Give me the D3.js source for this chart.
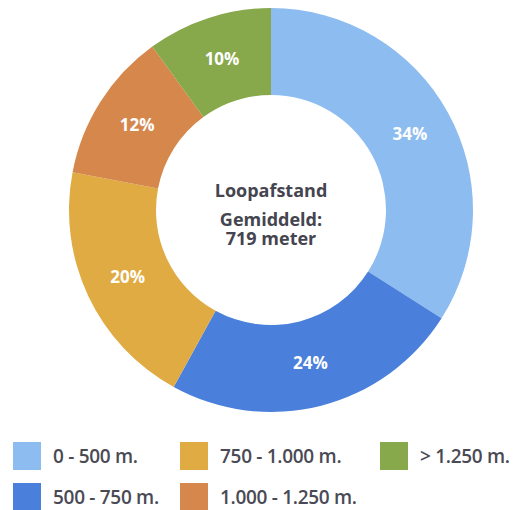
<!DOCTYPE html>
<html>
<head>
<meta charset="utf-8">
<script src="https://cdn.jsdelivr.net/npm/d3@7"></script>
<style>
  body { margin: 0; background: #fff; }
  svg { display: block; font-family: "Open Sans", sans-serif; }
</style>
</head>
<body>
<svg id="chart"></svg>
<script>
// data
const categories = ['0 - 500 m.', '500 - 750 m.', '750 - 1.000 m.', '1.000 - 1.250 m.', '> 1.250 m.'];
const shares = [34, 24, 20, 12, 10];
const colors = ['#8dbcf0', '#4a80dc', '#dfab42', '#d5874c', '#87a84b'];
const centerLines = ['Loopafstand', 'Gemiddeld:', '719 meter'];

const width = 515, height = 510;
const cx = 271, cy = 210;
const outerR = 202, innerR = 115;

const svg = d3.select('#chart')
  .attr('width', width)
  .attr('height', height);

const g = svg.append('g')
  .attr('transform', `translate(${cx}, ${cy})`);

const data = categories.map((c, i) => ({ label: c, value: shares[i], color: colors[i] }));

const pie = d3.pie().value(d => d.value).sort(null);
const arc = d3.arc().innerRadius(innerR).outerRadius(outerR);

const slices = g.selectAll('g.slice')
  .data(pie(data))
  .enter()
  .append('g')
  .attr('class', 'slice');

slices.append('path')
  .attr('d', arc)
  .attr('fill', d => d.data.color);

slices.append('text')
  .attr('transform', d => `translate(${arc.centroid(d)})`)
  .attr('text-anchor', 'middle')
  .attr('dy', '0.35em')
  .attr('fill', '#fff')
  .attr('font-size', 17)
  .attr('font-weight', 'bold')
  .text(d => d.data.value + '%');

// centre text, one block with tight leading
const centerText = g.append('text')
  .attr('text-anchor', 'middle')
  .attr('fill', '#45454f')
  .attr('font-size', 18)
  .attr('font-weight', 'bold');

centerText.selectAll('tspan')
  .data(centerLines)
  .enter()
  .append('tspan')
  .attr('x', 0)
  .attr('y', (d, i) => [-13, 16, 35][i])
  .text(d => d);

// legend
const legendPos = [[13, 442], [13, 483], [180, 442], [180, 483], [380, 442]];
const legend = svg.selectAll('g.legend')
  .data(data)
  .enter()
  .append('g')
  .attr('class', 'legend')
  .attr('transform', (d, i) => `translate(${legendPos[i][0]}, ${legendPos[i][1]})`);

legend.append('rect')
  .attr('width', 28)
  .attr('height', 28)
  .attr('fill', d => d.color);

legend.append('text')
  .attr('x', 40)
  .attr('y', 14)
  .attr('dy', '0.35em')
  .attr('fill', '#4a4a55')
  .attr('font-size', 19)
  .attr('letter-spacing', -0.3)
  .attr('font-weight', 600)
  .text(d => d.label);
</script>
</body>
</html>
